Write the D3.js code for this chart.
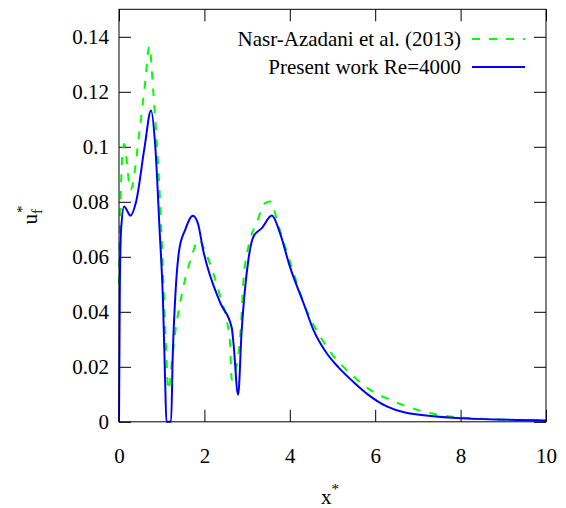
<!DOCTYPE html>
<html>
<head>
<meta charset="utf-8">
<script src="https://cdn.jsdelivr.net/npm/d3@7"></script>
<style>
  body { margin: 0; background: #fff; }
  svg text { font-family: "Liberation Serif", "Times New Roman", Times, "DejaVu Serif", serif; fill: #000; }
</style>
</head>
<body>
<svg id="chart" width="566" height="508"></svg>
<script>
// Nasr-Azadani et al. (2013)
const refX = [0.0, 0.03, 0.07, 0.12, 0.27, 0.49, 0.61, 0.71, 0.80, 0.88, 0.96, 1.01, 1.08, 1.16,
    1.24, 1.32, 1.43, 1.55, 1.70, 1.86, 2.05, 2.37, 2.52, 2.60, 2.64, 2.79, 2.86, 2.91, 3.07,
    3.22, 3.42, 3.54, 3.73, 3.89, 4.04, 4.36, 4.86, 5.49, 5.88, 6.35, 7.13, 8.22, 10.0];
const refY = [0.05, 0.075, 0.095, 0.101, 0.0844, 0.107, 0.123, 0.1365, 0.1207, 0.1025, 0.0807,
    0.0625, 0.035, 0.0116, 0.0220, 0.0330, 0.0430, 0.0520, 0.060, 0.0662, 0.0607, 0.0456,
    0.037, 0.0287, 0.0153, 0.0237, 0.036, 0.0505, 0.0662, 0.0722, 0.0795, 0.0801, 0.0716,
    0.0637, 0.0565, 0.0419, 0.0274, 0.0165, 0.0116, 0.008, 0.0037, 0.0013, 0.0005];

// Present work Re=4000
const simX = [0.0, 0.02, 0.05, 0.12, 0.2, 0.265, 0.4, 0.6, 0.75, 0.85, 0.95, 1.03, 1.08, 1.11,
    1.22, 1.26, 1.32, 1.41, 1.55, 1.73, 1.85, 1.97, 2.37, 2.64, 2.68, 2.79, 2.87, 3.03, 3.15,
    3.35, 3.58, 3.77, 4.0, 4.32, 4.55, 4.86, 5.14, 5.49, 5.84, 6.27, 6.7, 8.03, 10.0];
const simY = [0.0, 0.05, 0.07, 0.0783, 0.0765, 0.0749, 0.08, 0.1, 0.1132, 0.1, 0.07, 0.044,
    0.015, 0.0, 0.0, 0.025, 0.046, 0.0625, 0.0698, 0.0749, 0.072, 0.0625, 0.0433, 0.0342,
    0.0287, 0.0098, 0.0324, 0.0589, 0.0674, 0.0705, 0.075, 0.0686, 0.0565, 0.0432, 0.0335,
    0.025, 0.0198, 0.0145, 0.0098, 0.0056, 0.0034, 0.0013, 0.0005];

const xTicks = [0, 2, 4, 6, 8, 10];
const yTicks = [0, 0.02, 0.04, 0.06, 0.08, 0.1, 0.12, 0.14];

const seriesNames = ['Nasr-Azadani et al. (2013)', 'Present work Re=4000'];

const serif = '"Liberation Serif", "Times New Roman", Times, "DejaVu Serif", serif',
    fontSize = 21;

const svg = d3.select('#chart'),
    plotLeft = 119, plotTop = 9.3, plotW = 427, plotH = 412.5;

const x = d3.scaleLinear().domain([0, 10]).range([plotLeft, plotLeft + plotW]);
const y = d3.scaleLinear().domain([0, 0.15]).range([plotTop + plotH, plotTop]);

const frame = svg.append('g');

// inward ticks on all four sides
frame.append('g')
    .attr('transform', `translate(0,${plotTop + plotH})`)
    .call(d3.axisBottom(x).tickValues(xTicks).tickSizeInner(-12).tickSizeOuter(0).tickPadding(26)
        .tickFormat(d3.format('d')))
    .call(g => g.select('.domain').remove());

frame.append('g')
    .attr('transform', `translate(0,${plotTop})`)
    .call(d3.axisTop(x).tickValues(xTicks).tickSizeInner(-12).tickSizeOuter(0).tickFormat(''))
    .call(g => g.select('.domain').remove());

frame.append('g')
    .attr('transform', `translate(${plotLeft},0)`)
    .call(d3.axisLeft(y).tickValues(yTicks).tickSizeInner(-12).tickSizeOuter(0).tickPadding(10)
        .tickFormat(d => d === 0 ? '0' : String(+d.toFixed(2))))
    .call(g => g.select('.domain').remove());

frame.append('g')
    .attr('transform', `translate(${plotLeft + plotW},0)`)
    .call(d3.axisRight(y).tickValues(yTicks).tickSizeInner(-12).tickSizeOuter(0).tickFormat(''))
    .call(g => g.select('.domain').remove());

frame.selectAll('g').attr('font-family', serif).attr('font-size', fontSize);
frame.selectAll('.tick line').attr('stroke', '#000');

const line = d3.line()
    .x(d => x(d[0]))
    .y(d => y(d[1]))
    .curve(d3.curveMonotoneX);

const plot = svg.append('g');

plot.append('path')
    .datum(refX.map((v, i) => [v, refY[i]]))
    .attr('fill', 'none')
    .attr('stroke', '#00ff00')
    .attr('stroke-width', 2)
    .attr('stroke-dasharray', '8,9')
    .attr('d', line);

plot.append('path')
    .datum(simX.map((v, i) => [v, simY[i]]))
    .attr('fill', 'none')
    .attr('stroke', '#0000ff')
    .attr('stroke-width', 2)
    .attr('d', line);

// frame
svg.append('rect')
    .attr('x', plotLeft).attr('y', plotTop)
    .attr('width', plotW).attr('height', plotH)
    .attr('fill', 'none')
    .attr('stroke', '#000')
    .attr('stroke-width', 1);

// legend
const legend = svg.append('g').attr('font-family', serif);
const legendStyles = [
    { stroke: '#00ff00', dash: '8,9' },
    { stroke: '#0000ff', dash: null }
];
seriesNames.forEach((name, i) => {
    const ly = 39 + i * 28;
    legend.append('text')
        .attr('x', 461).attr('y', ly)
        .attr('dy', '0.35em')
        .attr('text-anchor', 'end')
        .attr('font-size', fontSize)
        .text(name);
    legend.append('line')
        .attr('x1', 472).attr('x2', 525)
        .attr('y1', ly).attr('y2', ly)
        .attr('stroke', legendStyles[i].stroke)
        .attr('stroke-width', 2)
        .attr('stroke-dasharray', legendStyles[i].dash);
});

// axis titles
const xt = svg.append('text')
    .attr('x', 330).attr('y', 504)
    .attr('text-anchor', 'middle')
    .attr('font-family', serif)
    .attr('font-size', fontSize);
xt.append('tspan').text('x');
xt.append('tspan').attr('dy', -10).attr('font-size', 15).text('*');

const yt = svg.append('text')
    .attr('transform', 'translate(37,215) rotate(-90)')
    .attr('text-anchor', 'middle')
    .attr('font-family', serif)
    .attr('font-size', fontSize);
yt.append('tspan').text('u');
yt.append('tspan').attr('dy', 5).attr('font-size', 15).text('f');
yt.append('tspan').attr('dx', -4).attr('dy', -15).attr('font-size', 15).text('*');
</script>
</body>
</html>
